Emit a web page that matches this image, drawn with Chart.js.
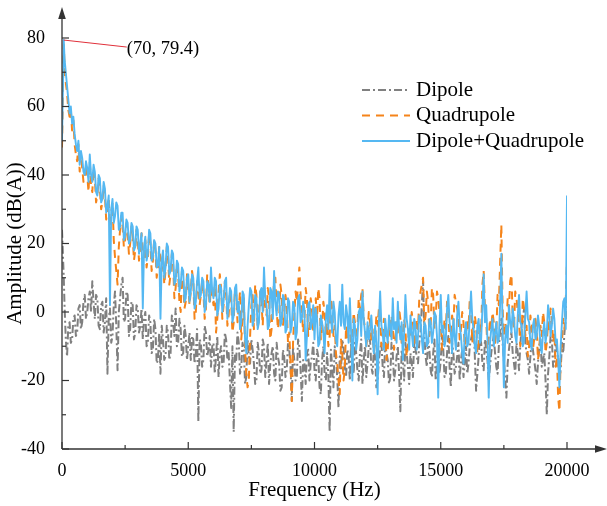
<!DOCTYPE html>
<html><head><meta charset="utf-8">
<script src="https://cdn.jsdelivr.net/npm/chart.js@4.4.0/dist/chart.umd.min.js"></script>
<style>html,body{margin:0;padding:0;background:#fff;}</style>
</head><body>
<canvas id="c" width="607" height="506"></canvas>
<script>
const frequency = [0,70,
100,150,200,250,300,350,400,450,500,550,600,650,700,750,800,850,900,950,1000,
1050,1100,1150,1200,1250,1300,1350,1400,1450,1500,1550,1600,1650,1700,1750,1800,1850,1900,1950,2000,
2050,2100,2150,2200,2250,2300,2350,2400,2450,2500,2550,2600,2650,2700,2750,2800,2850,2900,2950,3000,
3050,3100,3150,3200,3250,3300,3350,3400,3450,3500,3550,3600,3650,3700,3750,3800,3850,3900,3950,4000,
4050,4100,4150,4200,4250,4300,4350,4400,4450,4500,4550,4600,4650,4700,4750,4800,4850,4900,4950,5000,
5050,5100,5150,5200,5250,5300,5350,5400,5450,5500,5550,5600,5650,5700,5750,5800,5850,5900,5950,6000,
6050,6100,6150,6200,6250,6300,6350,6400,6450,6500,6550,6600,6650,6700,6750,6800,6850,6900,6950,7000,
7050,7100,7150,7200,7250,7300,7350,7400,7450,7500,7550,7600,7650,7700,7750,7800,7850,7900,7950,8000,
8050,8100,8150,8200,8250,8300,8350,8400,8450,8500,8550,8600,8650,8700,8750,8800,8850,8900,8950,9000,
9050,9100,9150,9200,9250,9300,9350,9400,9450,9500,9550,9600,9650,9700,9750,9800,9850,9900,9950,10000,
10050,10100,10150,10200,10250,10300,10350,10400,10450,10500,10550,10600,10650,10700,10750,10800,10850,10900,10950,11000,
11050,11100,11150,11200,11250,11300,11350,11400,11450,11500,11550,11600,11650,11700,11750,11800,11850,11900,11950,12000,
12050,12100,12150,12200,12250,12300,12350,12400,12450,12500,12550,12600,12650,12700,12750,12800,12850,12900,12950,13000,
13050,13100,13150,13200,13250,13300,13350,13400,13450,13500,13550,13600,13650,13700,13750,13800,13850,13900,13950,14000,
14050,14100,14150,14200,14250,14300,14350,14400,14450,14500,14550,14600,14650,14700,14750,14800,14850,14900,14950,15000,
15050,15100,15150,15200,15250,15300,15350,15400,15450,15500,15550,15600,15650,15700,15750,15800,15850,15900,15950,16000,
16050,16100,16150,16200,16250,16300,16350,16400,16450,16500,16550,16600,16650,16700,16750,16800,16850,16900,16950,17000,
17050,17100,17150,17200,17250,17300,17350,17400,17450,17500,17550,17600,17650,17700,17750,17800,17850,17900,17950,18000,
18050,18100,18150,18200,18250,18300,18350,18400,18450,18500,18550,18600,18650,18700,18750,18800,18850,18900,18950,19000,
19050,19100,19150,19200,19250,19300,19350,19400,19450,19500,19550,19600,19650,19700,19750,19800,19850,19900,19950,20000];

const dipole = [24,10,
2,-8,-13,-4,-3,-9,-8,-2,-1,-7,-6,1,2,-5,-3,3,5,-2,0,
4,6,0,9,3,-2,5,4,-4,-5,2,3,-6,-3,4,-18,-2,1,-9,-7,
2,6,-4,-17,0,4,8,10,-3,-2,6,5,-7,-5,3,2,-8,-6,2,1,
-6,-4,1,-8,-2,0,-10,-9,-1,-3,-12,-11,-2,-5,-15,-14,-6,-18,-4,-8,
-14,-13,-4,-6,-14,-12,-1,-3,-7,1,-10,-9,-2,-5,-13,-12,-4,-7,-14,-10,
-6,-14,-7,-8,-15,-12,-5,-32,-8,-9,-16,-14,-4,-6,-13,-11,-7,-16,-10,-9,
-18,-13,-7,-19,-12,-10,-16,-15,-6,-8,-14,-12,-20,-28,-10,-35,-12,-14,-6,-9,
-18,-16,-9,-11,-21,-19,-8,-13,-15,-8,-11,-15,-21,-20,-9,-12,-18,-17,-8,-10,
-19,-14,-9,-21,-15,-12,-10,-18,-20,-9,-13,-15,-23,-22,-11,-13,-19,-17,-9,-11,
-16,-26,-10,-14,-20,-19,-8,-10,-17,-26,-14,-15,-21,-12,-11,-20,-15,-13,-9,-17,
-20,-11,-13,-22,-24,-14,-10,-18,-20,-12,-19,-35,-11,-16,-22,-10,-14,-19,-28,-13,
-17,-8,-10,-16,-19,-11,-13,-20,-9,-14,-18,-9,-12,-17,-20,-12,-8,-21,-14,-10,
-19,-15,-10,-8,-16,-18,-11,-13,-22,-20,-14,-11,-9,-16,-19,-9,-12,-14,-21,-19,
-9,-12,-20,-17,-13,-10,-18,-29,-11,-14,-20,-9,-12,-16,-21,-12,-15,-19,-8,-11,
-13,-15,-9,-6,2,9,-7,-13,-16,-8,-11,-17,-19,-12,-8,-20,-15,-9,-18,-14,
-7,-11,-19,-18,-12,-7,-16,-22,-9,-12,-18,-16,-13,-9,-20,-14,-11,-19,-15,-10,
-18,-15,-10,-8,-6,-3,-13,-23,-18,-13,-7,-9,-15,-17,-8,-11,-14,-20,-16,-12,
-9,-7,-12,-16,-18,-10,-6,-2,-9,-14,-19,-25,-15,-11,-8,-6,-12,-15,-18,-9,
-12,-17,-10,-4,-2,1,-9,-12,-14,-18,-13,-8,-11,-14,-17,-21,-15,-10,-8,-16,
-14,-12,-20,-30,-18,-13,-7,-8,-16,-15,-9,-11,-14,-19,-17,-9,-12,-6,-2,5];

const quadrupole = [48,78,
72,67,64,59,57,59,53,56,49,46,44,49,41,46,42,38,39,43,40,
35,44,37,35,42,39,32,34,39,36,30,32,37,34,27,30,33,25,29,32,
21,16,12,8,19,24,28,25,19,21,26,23,17,20,25,22,15,18,24,21,
15,19,23,18,16,21,13,16,23,20,12,15,21,18,10,13,19,15,12,17,
8,12,19,16,8,11,17,14,4,7,14,11,3,0,12,9,1,3,11,8,
2,6,12,9,-2,0,9,7,2,5,9,6,-2,1,11,8,2,7,5,2,
8,-6,-2,5,11,7,-2,2,9,6,-4,-1,6,3,-6,-3,7,5,-3,1,
6,-8,-3,4,-11,-18,-22,-20,-7,2,5,-5,8,5,-5,-1,6,3,-4,8,
2,-1,7,4,-8,-5,3,9,10,1,-5,-2,8,5,-4,0,5,2,-9,-6,
-15,-26,-9,-1,6,3,8,13,5,0,-6,-2,7,4,-7,-4,4,1,-6,-3,
4,-2,7,4,-8,-5,3,0,-7,-3,-10,-7,4,1,-7,-4,-12,-15,-20,-24,
-8,-12,-20,-17,-4,-8,-1,-4,-11,-8,0,-3,-8,-5,4,1,5,7,-2,-5,
-10,-7,0,-3,-8,-5,-12,-9,-1,-4,1,-2,-10,-7,-2,-5,-14,-11,-4,-7,
-1,-4,-11,-8,-3,-6,1,-2,-9,-6,-2,-5,-13,-10,-4,-7,0,-3,-10,-7,
-2,-5,4,6,8,10,-4,-1,6,3,-7,-4,7,5,-5,-2,6,4,0,-3,
-11,-8,-2,-5,3,1,-9,-6,-1,-4,5,3,1,-1,-8,-5,0,-3,-10,-7,
-2,-5,4,1,-9,-6,-1,-4,-12,-9,-3,-6,8,12,1,-2,-11,-8,-2,-5,
0,-3,-9,-6,5,2,14,25.5,1,-7,-3,-5,4,1,9,11,-2,-5,6,4,
0,-3,-10,-7,4,1,-7,-4,-13,-10,-1,-4,-11,-8,-2,-5,-14,-11,-4,-7,
0,-3,-12,-9,-3,-6,1,-2,-9,-6,-16,-13,-25,-29,-13,-9,-2,-5,3,15];

const dipoleQuadrupole = [50,79.4,
74,70,66,62,58,60,55,57,52,49,47,50,43,47,45,41,40,44,42,
38,46,40,38,43,41,35,34,40,39,32,33,38,36,29,31,34,2,30,33,
26,28,32,31,24,25,29,29,21,22,27,26,20,21,26,25,18,19,25,24,
17,20,23,1,19,22,15,17,24,23,15,16,21,20,13,14,19,-2,15,18,
10,13,20,19,11,12,18,17,8,9,15,14,6,8,13,12,3,4,10,11,
3,6,11,10,1,3,9,13,4,5,10,9,0,2,9,8,3,13,6,4,
10,9,-1,1,8,7,0,3,9,10,-2,2,7,6,-3,-1,7,8,0,3,
-5,-3,6,5,-8,-12,-4,2,7,6,-4,-2,5,4,-5,-3,6,7,0,13,
4,2,-5,-4,7,6,-2,12,3,-1,6,5,-4,-3,5,4,-6,-5,4,3,
-6,-4,3,2,-8,-6,4,5,-3,-2,3,1,-14,-7,2,3,-5,-3,2,-8,
1,-2,-10,-9,-1,-3,-6,-12,-2,2,-5,8,-2,-6,3,0,-8,-10,-1,3,
-4,8,-3,-5,2,-1,-9,4,-6,-20,-2,-4,-11,-8,0,1,-7,6,-2,-6,
-10,-3,-8,-5,-1,-7,-12,-4,-9,-24,-3,6,-4,-6,-11,-2,-6,-9,-1,-4,
-8,4,-5,-3,-9,3,-4,-8,-3,-14,-6,5,-2,-5,-11,-1,-6,-10,-2,-4,
-11,-7,-1,-2,-8,-12,-3,-4,-10,-9,-2,-3,-9,-6,0,-1,-7,-25,-4,5,
-6,-4,-10,-8,1,5,-3,-6,-12,-2,-7,-11,-1,3,-4,-7,-12,-15,-6,-3,
-10,-9,-1,6,-2,-5,-10,-12,-4,-2,-9,-8,1,11,-3,2,-8,-25,-9,-5,
-2,-10,-6,-3,-9,-8,2,17,-5,-22,-8,-4,-9,2,-3,-6,1,-2,-7,-9,
-1,5,-3,-4,-10,-8,-1,6,-2,-3,-9,-11,-4,-2,-8,-7,-1,-4,-10,-12,
-6,-3,-9,-6,2,-1,-7,-4,1,-2,-9,-8,-14,-22,-10,-3,3,4,-5,34];

const seriesNames = ['Dipole', 'Quadrupole', 'Dipole+Quadrupole'];
const xTicks = [0, 5000, 10000, 15000, 20000];
const xMinorTicks = [2500, 7500, 12500, 17500];
const yTicks = [-40, -20, 0, 20, 40, 60, 80];
const yMinorTicks = [-30, -10, 10, 30, 50, 70];
const peakPoint = {x: 70, y: 79.4, label: '(70, 79.4)'};

const SERIF = "'Liberation Serif', 'Times New Roman', serif";
const AXIS = '#333333';

function pts(values) { return values.map((v, i) => ({x: frequency[i], y: v})); }

const decor = {
  id: 'decor',
  afterDraw(chart) {
    const ctx = chart.ctx;
    const xs = chart.scales.x, ys = chart.scales.y;
    const x0 = xs.getPixelForValue(0), y0 = ys.getPixelForValue(-40);
    ctx.save();
    ctx.strokeStyle = AXIS; ctx.fillStyle = AXIS; ctx.lineWidth = 1.3; ctx.setLineDash([]);
    ctx.beginPath(); ctx.moveTo(x0, y0); ctx.lineTo(x0, 14); ctx.stroke();
    ctx.beginPath(); ctx.moveTo(x0, y0); ctx.lineTo(600, y0); ctx.stroke();
    ctx.beginPath(); ctx.moveTo(x0, 7); ctx.lineTo(x0 - 3.8, 19); ctx.lineTo(x0 + 3.8, 19); ctx.closePath(); ctx.fill();
    ctx.beginPath(); ctx.moveTo(607, y0); ctx.lineTo(595, y0 - 3.8); ctx.lineTo(595, y0 + 3.8); ctx.closePath(); ctx.fill();
    ctx.lineWidth = 1.2;
    xTicks.forEach(v => { const p = xs.getPixelForValue(v); ctx.beginPath(); ctx.moveTo(p, y0); ctx.lineTo(p, y0 - 7); ctx.stroke(); });
    xMinorTicks.forEach(v => { const p = xs.getPixelForValue(v); ctx.beginPath(); ctx.moveTo(p, y0); ctx.lineTo(p, y0 - 4); ctx.stroke(); });
    yTicks.forEach(v => { const p = ys.getPixelForValue(v); ctx.beginPath(); ctx.moveTo(x0, p); ctx.lineTo(x0 + 7, p); ctx.stroke(); });
    yMinorTicks.forEach(v => { const p = ys.getPixelForValue(v); ctx.beginPath(); ctx.moveTo(x0, p); ctx.lineTo(x0 + 4, p); ctx.stroke(); });
    const px = xs.getPixelForValue(peakPoint.x), py = ys.getPixelForValue(peakPoint.y);
    ctx.strokeStyle = '#e0303a'; ctx.lineWidth = 1;
    ctx.beginPath(); ctx.moveTo(px, py); ctx.lineTo(px + 63, py + 7); ctx.stroke();
    ctx.fillStyle = '#000'; ctx.font = "18.5px " + SERIF; ctx.textBaseline = 'middle'; ctx.textAlign = 'left';
    ctx.fillText(peakPoint.label, px + 63, py + 9);
    ctx.font = "21px " + SERIF;
    chart.data.datasets.forEach((ds, i) => {
      const ly = 90 + i * 25.5;
      ctx.strokeStyle = ds.borderColor; ctx.lineWidth = ds.borderWidth; ctx.setLineDash(ds.borderDash || []);
      ctx.beginPath(); ctx.moveTo(362, ly); ctx.lineTo(410, ly); ctx.stroke();
      ctx.setLineDash([]);
      ctx.fillStyle = '#000';
      ctx.fillText(ds.label, 416, ly);
    });
    ctx.restore();
  }
};

new Chart(document.getElementById('c'), {
  type: 'line',
  data: {
    datasets: [
      {label: seriesNames[0], data: pts(dipole), borderColor: '#808080', borderWidth: 2, borderDash: [8, 3, 2, 3], pointRadius: 0, order: 3, tension: 0},
      {label: seriesNames[1], data: pts(quadrupole), borderColor: '#F5841A', borderWidth: 2, borderDash: [8, 6], pointRadius: 0, order: 2, tension: 0},
      {label: seriesNames[2], data: pts(dipoleQuadrupole), borderColor: '#55B8F2', borderWidth: 1.9, pointRadius: 0, order: 1, tension: 0}
    ]
  },
  options: {
    responsive: false, animation: false,
    layout: {padding: {top: 38, right: 40, left: 0, bottom: 0}},
    plugins: {legend: {display: false}, tooltip: {enabled: false}},
    elements: {line: {borderJoinStyle: 'round'}},
    scales: {
      x: {
        type: 'linear', min: 0, max: 20000,
        grid: {display: false}, border: {display: false},
        afterBuildTicks: s => { s.ticks = xTicks.map(v => ({value: v})); },
        afterFit: s => { s.height = 57; },
        ticks: {font: {family: SERIF, size: 18}, color: '#000', padding: 3, maxRotation: 0, autoSkip: false, callback: v => String(v)},
        title: {display: true, text: 'Frequency (Hz)', font: {family: SERIF, size: 21}, color: '#000', padding: {top: 0, bottom: 3}}
      },
      y: {
        min: -40, max: 80,
        grid: {display: false}, border: {display: false},
        afterBuildTicks: s => { s.ticks = yTicks.map(v => ({value: v})); },
        afterFit: s => { s.width = 62; },
        ticks: {font: {family: SERIF, size: 18}, color: '#000', padding: 9, autoSkip: false, callback: v => String(v)},
        title: {display: true, text: 'Amplitude (dB(A))', font: {family: SERIF, size: 21}, color: '#000', padding: {top: 3, bottom: 0}}
      }
    }
  },
  plugins: [decor]
});
</script>
</body></html>
